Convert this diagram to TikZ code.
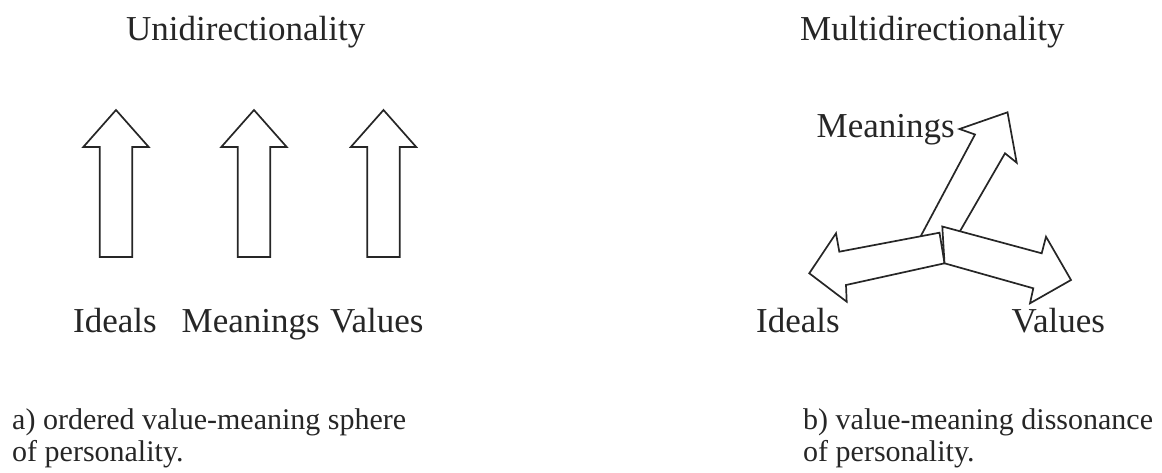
\documentclass[tikz,border=0pt]{standalone}
\usepackage{fontspec}
\setmainfont{Liberation Serif}
\usetikzlibrary{calc}
\newcommand\blkarrow[3]{% #1 base, #2 tip, #3 head length
  \coordinate (bh) at ($(#2)!#3!(#1)$);
  \draw[blk] ($(#1)!16.3pt!90:(#2)$) -- ($(bh)!16.3pt!90:(#2)$) -- ($(bh)!32.7pt!90:(#2)$) -- (#2)
    -- ($(bh)!32.7pt!-90:(#2)$) -- ($(bh)!16.3pt!-90:(#2)$) -- ($(#1)!16.3pt!-90:(#2)$) -- cycle;}
\begin{document}
\begin{tikzpicture}[x=1pt,y=-1pt,
  blk/.style={draw=black!85, line width=1.7pt, fill=white, line join=miter},
  lbl/.style={anchor=base west, inner sep=0pt, font=\fontsize{35}{42}\selectfont, text=black!85},
  captext/.style={anchor=base west, inner sep=0pt, font=\fontsize{30}{32}\selectfont, text=black!85}]
\useasboundingbox (0,0) rectangle (1162,472);
% titles
\node[lbl] (tl) at (126,40) {Unidirectionality};
\node[lbl] (tr) at (800,40) {Multidirectionality};
% left: vertical arrows
\coordinate (b1) at (116,257); \coordinate (t1) at (116,110);
\coordinate (b2) at (254,257); \coordinate (t2) at (254,110);
\coordinate (b3) at (383.5,257); \coordinate (t3) at (383.5,110);
\blkarrow{b1}{t1}{37pt}
\blkarrow{b2}{t2}{37pt}
\blkarrow{b3}{t3}{37pt}
\node[lbl] (li) at (73,332) {Ideals};
\node[lbl] (lm) at (181.5,332) {Meanings};
\node[lbl] (lv) at (330,332) {Values};
% right: three diverging arrows
\draw[blk] (1007.5,112.3) -- (959.5,129) -- (975,134.5) -- (916,245) -- (952,245)
  -- (1005,153.3) -- (1016.7,162.7) -- cycle;
\draw[blk] (809.3,273.3) -- (836,233.3) -- (839.3,251.7) -- (939.5,232.7) -- (944.5,263.3)
  -- (846,285) -- (846.7,301.7) -- cycle;
\draw[blk] (942.3,226.5) -- (1041.7,253.3) -- (1046,236.7) -- (1071,280) -- (1030,303.3)
  -- (1033.3,288.3) -- (944.5,263.3) -- cycle;
\node[lbl] (rm) at (816.5,137) {Meanings};
\node[lbl] (ri) at (756,332) {Ideals};
\node[lbl] (rv) at (1011.5,332) {Values};
% captions
\node[captext] (ca) at (12,429) {a) ordered value-meaning sphere};
\node[captext] (ca2) at (12,461.7) {of personality.};
\node[captext] (cb) at (803,429) {b) value-meaning dissonance};
\node[captext] (cb2) at (803,461.7) {of personality.};
\end{tikzpicture}
\end{document}
